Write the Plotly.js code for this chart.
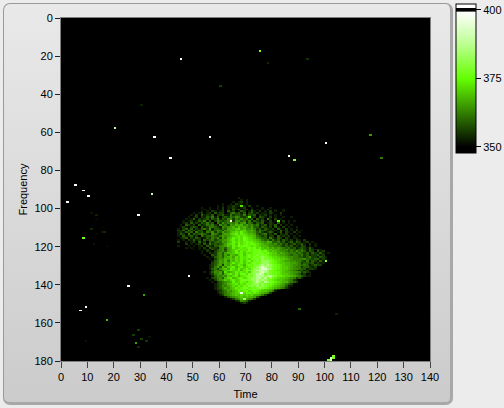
<!DOCTYPE html>
<html><head><meta charset="utf-8">
<script src="https://cdn.plot.ly/plotly-3.0.1.min.js"></script>
<style>
html,body{margin:0;padding:0;width:504px;height:408px;overflow:hidden;background:#ececec}
#panel{position:absolute;left:3px;top:3px;width:446px;height:398px;border:1px solid #9a9a9a;border-right:3px solid #a8a8a8;border-bottom:3px solid #a8a8a8;border-radius:7px;background:linear-gradient(#e9e9e9,#cbcbcb)}
#frame{position:absolute;left:60px;top:17px;width:371px;height:345px;background:#808080}
#plot{position:absolute;left:0;top:0;width:504px;height:408px}
</style></head><body>
<div id="panel"></div><div id="frame"></div><div id="plot"></div>
<script>
var xTicks=[0,10,20,30,40,50,60,70,80,90,100,110,120,130,140];
var yTicks=[0,20,40,60,80,100,120,140,160,180];
var barTicks=[350,375,400];
var blobFirstRow=94, blobFirstCol=44;
var digitValues=[350,353,356,359,362,364,366,368,370,372,374,376,378,382,387,394];
var blobRows=[
"00000000000000000000000100",
"0000000000000000000000001010",
"000000000000000000000101201",
"00000000000000000100102110100",
"000000000000000101011211010200100",
"000000000100100102011210120010001001",
"000000000010100102010313012020101020010010",
"000000000101021012031201320131020102010010",
"000000101201203122013423130231201102100200",
"000001020312130223114233241323021201010100",
"000010120213241302324354223412032102010010010",
"000101302123132413245243534230312041020100",
"001012013241302432346255342413213102010020101",
"001203121324230425345463562431323012103010100",
"010321203124342153426576746453412302130201010",
"012102320312443215456758675463313212031020100100",
"102313021342513324366789675564231321203102010100",
"213042313203423542567687896675243312120312010201",
"121323042314352436457898a87665342123201302102010",
"1320413234321543256689a8a98776323412130212010100",
"10312312042334324656789a9a9887432312203121201010",
"01230213201324352647" + "8a9a9ba987543314213202101100",
"10102131203234234567" + "9a8a9ba998764342423132120210200",
"20010120312032343657" + "8a9a9abaa9876576334231231320120100",
"00020101203142323468" + "9a8b9ababa987665453423123123102010",
"10001010120321334568" + "7a9babba9a987765544323231213201010",
"00010100102032214536" + "7a89a9abab9a87867565434231232131",
"00000010101203134526" + "789a9a9babba897867654534323421321210",
"00000000010210234536" + "78a8a9ababbcab97876554343534313203120",
"00000000010021245367" + "78a9a8a9abbcbab9886765444343231" + "3213101",
"00000000001003245364" + "8769a8ababcbcba98876654344342312231200",
"00000000000101345367" + "8698a9abacbcdcba99877655443323" + "4221321",
"00000000000010245576" + "8798a9a9bbcbdccba9988765444453" + "323312100",
"00000000000001346574" + "8798a8ab9bcbdddcba987665544324" + "1321310",
"00000000000002346576" + "8a89a8a9bcbcdddcba988776654233" + "2312110",
"00000000000012356276" + "978a97abaccdededcba98776554343" + "123220",
"00000000000012463758" + "9a79a89abcdefeddcba98876544233" + "212",
"00000000000013425786" + "a98a89b9bddeffedcba98876554331" + "2210",
"00000000000002453679" + "a98a7abcbdefeedcba998765432312",
"00000000001013546396" + "78a9a9b8cddefedcbba987765542321",
"00000000000012456379" + "a8a8bb9ccdefecdcbba9887654312" + "01",
"00000000000001354658" + "79a79abcbdeeedeedcaa98876543211",
"00000000000102345379" + "a78ab9acddeedecdba98876542310",
"00000000000010245687" + "9a89bcbcddededcba988765421",
"00000000000001023456" + "7a89ba9bcdedcedcba98775432",
"00000000000000123457" + "89a8a9cbcddcdcbba9876432",
"00000000000000123546" + "798a9bacdcdcdcba98765311",
"0000000000000012346578a9abcabbcdcba987654210",
"00000000000000122456789aab9bbcba98876321",
"00000000000000012346578a9ab9aba9887641",
"000000000000000123456789a9aa9a987652",
"0000000000000000124567879898977642",
"00000000000000000013456787877631",
"0000000000000000000012457d6542",
"0000000000000000000000125431",
"000000000000000000000000121"
];
var spotCols=[45,60,30,20,35,56,41,5,75,78,93,117,100,86,88,121,8,10,34,2,29,11,13,13,11,15,16,15,13,8,12,17,25,31,9,7,17,29,27,30,28,32,29,33,9,31,100,104,103,102,103,101,102,64,71,82,68,48,90,68];
var spotRows=[21,35,45,57,62,62,73,87,17,23,21,61,65,72,74,73,90,93,92,96,103,102,103,105,110,109,112,112,113,115,118,119,140,145,151,153,158,163,166,168,170,169,172,167,169,162,127,155,177,178,178,179,179,106,104,106,98,135,152,144];
var spotVals=[398,356,353,389,398,398,398,398,378,354,355,365,398,398,378,362,398,398,389,398,398,352,353,351,354,351,354,352,351,378,352,351,398,366,398,398,368,356,356,356,366,355,354,352,352,351,380,353,378,392,378,378,392,398,372,375,372,398,360,395];

var zLow=347.8, zHigh=402.2;
function stop(v){return (v-zLow)/(zHigh-zLow);}
var colorscale=[
 [0,'rgb(0,0,0)'],[stop(350),'rgb(0,0,0)'],[stop(375),'rgb(100,255,0)'],
 [stop(387),'rgb(185,255,140)'],[stop(399.4),'rgb(255,255,255)'],[stop(399.5),'rgb(0,0,0)'],[stop(400.6),'rgb(0,0,0)'],[stop(400.7),'rgb(255,255,255)'],[1,'rgb(255,255,255)']];

var z=[];
for(var r=0;r<180;r++){var line=[];for(var c=0;c<140;c++)line.push(350);z.push(line);}
blobRows.forEach(function(s,i){for(var k=0;k<s.length;k++){z[blobFirstRow+i][blobFirstCol+k]=digitValues[parseInt(s[k],16)];}});
spotCols.forEach(function(c,i){z[spotRows[i]][c]=spotVals[i];});

var font={family:'"Liberation Sans",Arial,sans-serif',size:11,color:'#000'};
Plotly.newPlot('plot',[{type:'heatmap',z:z,x0:0.5,dx:1,y0:0.5,dy:1,zmin:zLow,zmax:zHigh,colorscale:colorscale,zsmooth:false,hoverinfo:'skip',
 colorbar:{thickness:20,thicknessmode:'pixels',len:149,lenmode:'pixels',x:1.0705,xanchor:'left',xpad:0,y:1.041,yanchor:'top',ypad:0,
  outlinecolor:'#000',outlinewidth:1,tickmode:'array',tickvals:barTicks,ticktext:barTicks.map(String),ticks:'outside',ticklen:5,tickcolor:'#000',tickfont:font,bordercolor:'rgba(0,0,0,0)'}}],
{width:504,height:408,margin:{l:61,r:74,t:18,b:47,pad:0,autoexpand:false},paper_bgcolor:'rgba(0,0,0,0)',plot_bgcolor:'#000',showlegend:false,font:font,
 xaxis:{range:[0,140],tickmode:'array',tickvals:xTicks,ticktext:xTicks.map(String),ticks:'outside',ticklen:6,tickcolor:'#444',showgrid:false,zeroline:false,title:{text:'Time',font:font,standoff:8},automargin:false},
 yaxis:{range:[180,0],tickmode:'array',tickvals:yTicks,ticktext:yTicks.map(String),ticks:'outside',ticklen:5,tickcolor:'#222',showgrid:false,zeroline:false,title:{text:'Frequency',font:font,standoff:4},automargin:false}
},{staticPlot:true,displayModeBar:false});
</script></body></html>
